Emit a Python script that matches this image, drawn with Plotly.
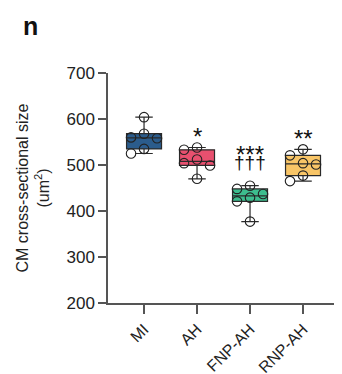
import plotly.graph_objects as go

categories = ["MI", "AH", "FNP-AH", "RNP-AH"]
mi_vals = [604, 568, 560, 558, 535, 525]
ah_vals = [538, 533, 512, 504, 499, 470]
fnp_vals = [455, 448, 437, 429, 421, 377]
rnp_vals = [534, 521, 504, 501, 477, 465]
groups = [mi_vals, ah_vals, fnp_vals, rnp_vals]
colors = ["#2B5C8C", "#E8506F", "#3DBD8E", "#F8C567"]
sig_top = ["", "*", "***", "**"]
sig_bottom = ["", "", "†††", ""]

y_range = [200, 700]
x_range = [-0.68, 3.66]
TOP_OFFSET = 8  # page offsets the figure vertically
W, H = 342, 374 - TOP_OFFSET
margin = dict(l=100, r=12, t=73 - TOP_OFFSET, b=71, autoexpand=False)
plot_w = W - margin["l"] - margin["r"]
plot_h = H - margin["t"] - margin["b"]
px_per_x = plot_w / (x_range[1] - x_range[0])
px_per_y = plot_h / (y_range[1] - y_range[0])
diam = 9.5
step = 13.0


def swarm(vals):
    placed = []
    offs = []
    for v in vals:
        for k in [0, -1, 1, -2, 2, -3, 3]:
            dx = k * step
            ok = True
            for (pdx, pv) in placed:
                dy = (v - pv) * px_per_y
                if ((dx - pdx) ** 2 + dy ** 2) ** 0.5 < diam:
                    ok = False
                    break
            if ok:
                break
        placed.append((dx, v))
        offs.append(dx / px_per_x)
    return offs


fig = go.Figure()
for i, (vals, col) in enumerate(zip(groups, colors)):
    fig.add_trace(go.Box(
        x=[i] * len(vals), y=vals, boxpoints=False, quartilemethod="exclusive",
        fillcolor=col, line=dict(color="#2a2a2a", width=1.2), width=0.66,
        whiskerwidth=0.5, showlegend=False, hoverinfo="skip",
    ))
for i, vals in enumerate(groups):
    offs = swarm(vals)
    fig.add_trace(go.Scatter(
        x=[i + o for o in offs], y=vals, mode="markers", showlegend=False,
        marker=dict(size=diam, color="rgba(0,0,0,0)", line=dict(color="#222", width=1.1)),
    ))

font = "Arial, Liberation Sans, sans-serif"
ann = []
for i, (t, b) in enumerate(zip(sig_top, sig_bottom)):
    if t:
        top_y = max(groups[i]) + (24 if not b else 68)
        ann.append(dict(x=i, y=top_y, xref="x", yref="y", text=t, showarrow=False,
                        font=dict(family=font, size=24, color="#111"), yanchor="middle"))
    if b:
        ann.append(dict(x=i, y=max(groups[i]) + 50, xref="x", yref="y", text=b, showarrow=False,
                        font=dict(family=font, size=19, color="#111"), yanchor="middle"))
ann.append(dict(x=(22 - 100) / plot_w, y=1 + (73 - 26) / plot_h,
                xref="paper", yref="paper", text="<b>n</b>", showarrow=False,
                xanchor="center", yanchor="middle",
                font=dict(family=font, size=25, color="#111")))

fig.update_layout(
    width=W, height=H, margin=margin, paper_bgcolor="white", plot_bgcolor="white",
    font=dict(family=font, color="#222"), annotations=ann,
    xaxis=dict(range=x_range, tickvals=list(range(4)), ticktext=categories, tickangle=-45,
               showline=True, linecolor="#555", linewidth=1.5, ticks="outside", ticklen=9,
               tickwidth=1.5, tickcolor="#555", showgrid=False, zeroline=False,
               automargin=False, tickfont=dict(size=16, color="#222")),
    yaxis=dict(range=y_range, tickvals=[200, 300, 400, 500, 600, 700], showline=True,
               linecolor="#555", linewidth=1.5, ticks="outside", ticklen=8, tickwidth=1.5,
               tickcolor="#555", showgrid=False, zeroline=False, automargin=False,
               tickfont=dict(size=17, color="#222"),
               title=dict(text="CM cross-sectional size<br>(um<sup>2</sup>)",
                          font=dict(size=16, color="#222"), standoff=13)),
)
fig.write_html("out.html")
